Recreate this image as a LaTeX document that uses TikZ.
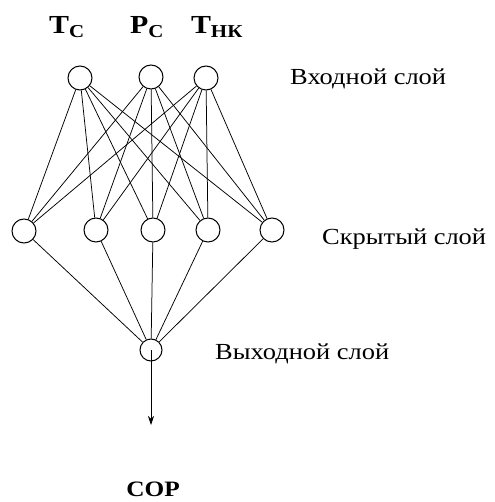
\documentclass[tikz,border=0pt]{standalone}
\usepackage{fontspec}
\setmainfont{Liberation Serif}
\newfontfamily\widefont[FakeStretch=1.15]{Liberation Serif}
\usetikzlibrary{arrows.meta}
\begin{document}
\begin{tikzpicture}[x=1pt,y=-1pt,
  neuron/.style={circle,draw,line width=1pt,minimum size=24pt,inner sep=0pt,fill=white},
  link/.style={line width=0.75pt},
  layertext/.style={anchor=west,inner sep=0pt,font=\widefont\fontsize{23}{26}\selectfont},
  varname/.style={font=\widefont\bfseries\fontsize{26}{28}\selectfont}]
\useasboundingbox (0,0) rectangle (494,502);
% input layer
\node[neuron] (i1) at (80,78) {};
\node[neuron] (i2) at (151,77) {};
\node[neuron] (i3) at (206,78) {};
% hidden layer
\node[neuron] (h1) at (24,231) {};
\node[neuron] (h2) at (96,230) {};
\node[neuron] (h3) at (153,230) {};
\node[neuron] (h4) at (208,230) {};
\node[neuron] (h5) at (272,230) {};
% output layer
\node[neuron,minimum size=22pt] (o) at (151,350) {};
% connections
\foreach \i in {1,2,3}
  \foreach \h in {1,...,5}
    \draw[link] (i\i) -- (h\h);
\foreach \h in {1,...,5}
  \draw[link] (h\h) -- (o);
\coordinate (oend) at (151,425);
\draw[link,-{Stealth[length=9pt,width=6pt]}] (o.center) -- (oend);
% labels
\node[varname] (tc) at (67,27) {T\textsubscript{C}};
\node[varname] (pc) at (147,27) {P\textsubscript{C}};
\node[varname] (thk) at (217,27) {T\textsubscript{НК}};
\node[varname,font=\widefont\bfseries\fontsize{22}{24}\selectfont] (cop) at (153,489) {COP};
\node[layertext] (lin) at (290,79) {Входной слой};
\node[layertext] (lhid) at (322,239) {Скрытый слой};
\node[layertext] (lout) at (215,354) {Выходной слой};
\end{tikzpicture}
\end{document}
